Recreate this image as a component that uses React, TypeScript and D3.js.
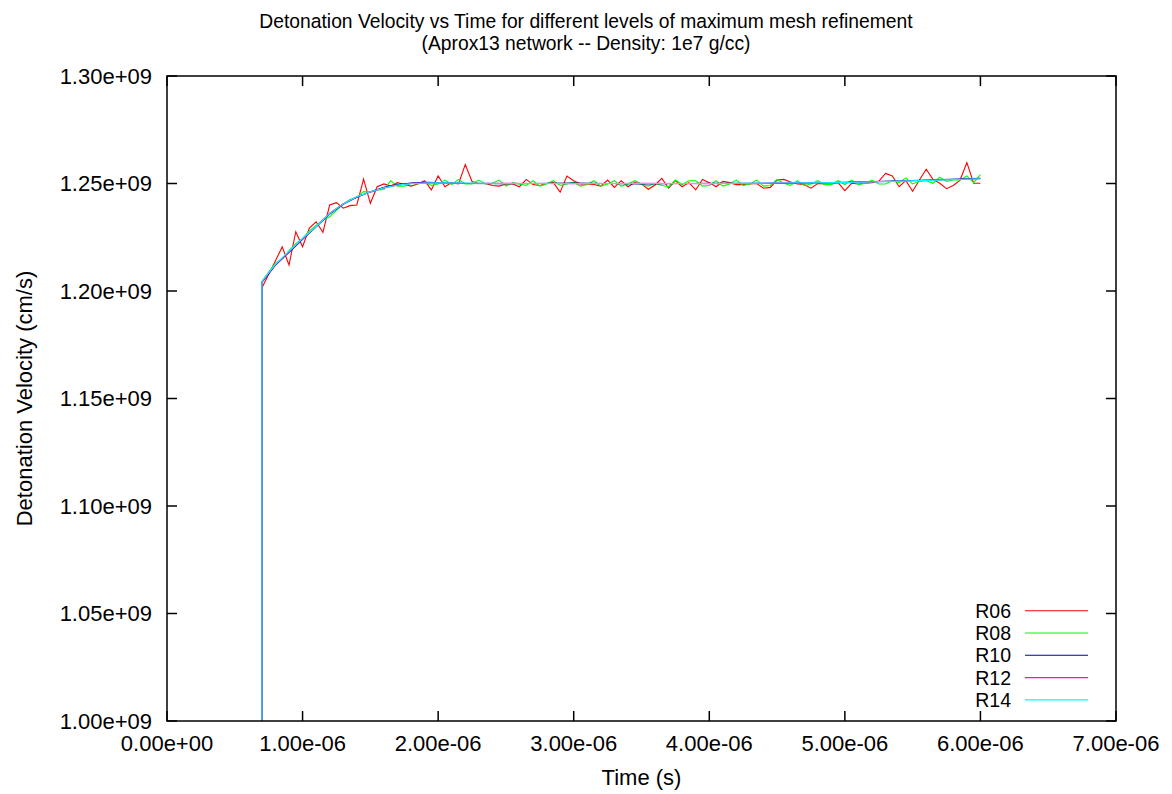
import React from "react";
import * as d3 from "d3";

// Times in microseconds (x 1e-6 s); velocities in units of 1e7 cm/s
const TIME_FINE = [
  0.70, 0.70, 0.75, 0.80, 0.85, 0.90, 0.95, 1.00, 1.05, 1.10, 1.15, 1.20, 1.25, 1.30, 1.35, 1.40,
  1.45, 1.50, 1.55, 1.60, 1.65, 1.70, 1.75, 1.80, 1.85, 1.90, 1.95, 2.00, 2.05, 2.10, 2.15,
  2.20, 2.25, 2.30, 2.35, 2.40, 2.45, 2.50, 2.55, 2.60, 2.65, 2.70, 2.75, 2.80, 2.85, 2.90,
  2.95, 3.00, 3.05, 3.10, 3.15, 3.20, 3.25, 3.30, 3.35, 3.40, 3.45, 3.50, 3.55, 3.60, 3.65,
  3.70, 3.75, 3.80, 3.85, 3.90, 3.95, 4.00, 4.05, 4.10, 4.15, 4.20, 4.25, 4.30, 4.35, 4.40,
  4.45, 4.50, 4.55, 4.60, 4.65, 4.70, 4.75, 4.80, 4.85, 4.90, 4.95, 5.00, 5.05, 5.10, 5.15,
  5.20, 5.25, 5.30, 5.35, 5.40, 5.45, 5.50, 5.55, 5.60, 5.65, 5.70, 5.75, 5.80, 5.85, 5.90,
  5.95, 6.00,
];

const R06 = [
  0, 120.14, 120.78, 121.41, 122.05, 121.21, 122.76, 122.06, 122.93, 123.22, 122.73, 124.0,
  124.11, 123.85, 123.97, 124.0, 125.2, 124.08, 124.85, 124.98, 124.88, 125.04,
  124.95, 124.88, 124.98, 125.13, 124.7, 125.35, 124.85, 125.04, 124.98, 125.88,
  125.09, 125.0, 125.0, 124.91, 124.88, 124.98, 124.98, 124.85, 125.19, 124.95,
  124.91, 125.0, 125.04, 124.6, 125.35, 125.13, 124.98, 124.98, 124.95, 124.88,
  125.16, 124.82, 125.13, 124.85, 125.04, 124.98, 124.73, 124.93, 125.24, 124.78,
  125.13, 124.85, 125.04, 124.7, 125.19, 125.04, 124.85, 125.1, 125.04, 124.95,
  124.95, 124.98, 125.0, 124.78, 124.82, 125.16, 125.19, 125.07, 124.98, 124.95,
  124.78, 125.0, 124.98, 124.98, 125.04, 124.67, 125.01, 124.98, 125.01, 125.04,
  125.1, 125.47, 125.35, 124.85, 125.13, 124.64, 125.16, 125.66, 125.19, 125.01,
  124.76, 124.91, 125.16, 125.97, 125.01, 125.01,
];

const R08 = [
  0, 120.45, 120.88, 121.3, 121.5, 121.88, 122.2, 122.45, 122.8, 123.05, 123.3, 123.45,
  123.75, 124.05, 124.25, 124.35, 124.62, 124.6, 124.7, 124.72, 125.13, 124.88,
  124.88, 125.01, 124.98, 125.07, 124.91, 124.98, 125.16, 124.95, 125.19, 124.98,
  124.98, 125.16, 124.98, 125.01, 125.16, 124.88, 125.04, 124.98, 124.91, 125.13,
  124.88, 124.98, 125.13, 124.91, 124.98, 125.07, 124.88, 124.95, 125.13, 124.88,
  124.98, 125.13, 124.88, 124.98, 125.13, 124.98, 124.88, 125.01, 124.91, 124.85,
  125.16, 124.95, 125.13, 125.13, 124.88, 124.91, 125.13, 124.88, 124.98, 125.16,
  124.91, 124.98, 125.16, 124.88, 124.91, 125.19, 125.01, 124.91, 125.13, 124.91,
  124.98, 125.13, 124.95, 124.95, 125.13, 124.95, 125.16, 124.95, 125.01, 125.16,
  124.98, 124.98, 125.13, 125.04, 125.26, 124.98, 125.1, 125.13, 125.01, 125.29,
  125.1, 125.16, 125.16, 125.35, 125.04, 125.41,
];

const TIME_COARSE = [
  0.70, 0.70, 0.75, 0.80, 0.90, 1.00, 1.10, 1.20, 1.30, 1.40, 1.50, 1.60, 1.70, 1.80, 1.90,
  2.00, 2.20, 2.50, 3.00, 3.50, 4.00, 4.50, 5.00, 5.50, 6.00,
];

const R10 = [
  0, 120.40, 120.80, 121.20, 121.80, 122.40, 122.98, 123.58, 124.03, 124.36, 124.62, 124.82,
  124.95, 125.02, 125.05, 125.04, 125.0, 124.99, 125.02, 124.98, 125.01, 125.0, 125.06,
  125.14, 125.24,
];
const R12 = [
  0, 120.42, 120.83, 121.22, 121.83, 122.43, 123.0, 123.62, 124.06, 124.38, 124.6, 124.79,
  124.92, 125.0, 125.03, 125.02, 125.01, 125.01, 124.99, 125.01, 124.99, 125.03, 125.04,
  125.13, 125.22,
];
const R14 = [
  0, 120.43, 120.85, 121.25, 121.85, 122.45, 123.0, 123.6, 124.05, 124.38, 124.62, 124.8,
  124.93, 124.99, 125.02, 125.03, 125.02, 125.0, 125.0, 125.0, 125.0, 125.02, 125.05,
  125.12, 125.22,
];

const SERIES = [
  { name: "R06", t: TIME_FINE, v: R06, color: "#ff0000" },
  { name: "R08", t: TIME_FINE, v: R08, color: "#00ff00" },
  { name: "R10", t: TIME_COARSE, v: R10, color: "#0000a0" },
  { name: "R12", t: TIME_COARSE, v: R12, color: "#ff00ff" },
  { name: "R14", t: TIME_COARSE, v: R14, color: "#00ffff" },
];

const X_TICKS = [0, 1e-6, 2e-6, 3e-6, 4e-6, 5e-6, 6e-6, 7e-6];
const Y_TICKS = [1.0e9, 1.05e9, 1.1e9, 1.15e9, 1.2e9, 1.25e9, 1.3e9];

const TITLE_1 = "Detonation Velocity vs Time for different levels of maximum mesh refinement";
const TITLE_2 = "(Aprox13 network -- Density: 1e7 g/cc)";
const X_LABEL = "Time (s)";
const Y_LABEL = "Detonation Velocity (cm/s)";

function fmt(v: number): string {
  if (v === 0) return "0.00e+00";
  const e = Math.floor(Math.log10(Math.abs(v)) + 1e-9);
  const m = v / Math.pow(10, e);
  const sign = e < 0 ? "-" : "+";
  const ae = Math.abs(e);
  return m.toFixed(2) + "e" + sign + (ae < 10 ? "0" + ae : "" + ae);
}

const W = 1172;
const H = 794;
const L = 167, R = 1116, T = 76, B = 721;
const FONT = "'Liberation Sans', Arial, Helvetica, sans-serif";

export default function App() {
  const x = d3.scaleLinear().domain([0, 7e-6]).range([L, R]);
  const y = d3.scaleLinear().domain([1.0e9, 1.3e9]).range([B, T]);
  const line = d3
    .line<[number, number]>()
    .x((d) => x(d[0] * 1e-6))
    .y((d) => y(d[1] * 1e7));

  const tick = 10;
  const fs = 22;

  return (
    <svg
      width={W}
      height={H}
      style={{ position: "absolute", left: 0, top: 0, background: "#fff" }}
      fontFamily={FONT}
    >
      <defs>
        <clipPath id="plotclip">
          <rect x={L} y={T} width={R - L} height={B - T} />
        </clipPath>
      </defs>
      <rect x={0} y={0} width={W} height={H} fill="#fff" />

      <text x={W / 2} y={28} textAnchor="middle" fontSize={19.3}>{TITLE_1}</text>
      <text x={W / 2} y={50} textAnchor="middle" fontSize={19.3}>{TITLE_2}</text>

      <g clipPath="url(#plotclip)">
        {SERIES.map((s) => (
          <path
            key={s.name}
            d={line(s.t.map((t, i) => [t, s.v[i]] as [number, number])) || ""}
            fill="none"
            stroke={s.color}
            strokeWidth={1.1}
          />
        ))}
      </g>

      {/* ticks */}
      <g stroke="#000" strokeWidth={1.5}>
        {X_TICKS.map((t) => (
          <g key={"xt" + t}>
            <line x1={x(t)} x2={x(t)} y1={B} y2={B - tick} />
            <line x1={x(t)} x2={x(t)} y1={T} y2={T + tick} />
          </g>
        ))}
        {Y_TICKS.map((v) => (
          <g key={"yt" + v}>
            <line x1={L} x2={L + tick} y1={y(v)} y2={y(v)} />
            <line x1={R} x2={R - tick} y1={y(v)} y2={y(v)} />
          </g>
        ))}
      </g>
      <rect x={L} y={T} width={R - L} height={B - T} fill="none" stroke="#000" strokeWidth={1.5} />

      {X_TICKS.map((t) => (
        <text key={"xl" + t} x={x(t)} y={751} textAnchor="middle" fontSize={fs}>
          {fmt(t)}
        </text>
      ))}
      {Y_TICKS.map((v) => (
        <text key={"yl" + v} x={152} y={y(v)} dy="0.36em" textAnchor="end" fontSize={fs}>
          {fmt(v)}
        </text>
      ))}

      <text x={(L + R) / 2} y={785} textAnchor="middle" fontSize={fs}>{X_LABEL}</text>
      <text
        transform={`translate(32, ${(T + B) / 2}) rotate(-90)`}
        textAnchor="middle"
        fontSize={fs}
      >
        {Y_LABEL}
      </text>

      {/* legend */}
      {SERIES.map((s, i) => {
        const ly = 610.7 + i * 22.3;
        return (
          <g key={"lg" + s.name}>
            <text x={1011} y={ly} dy="0.36em" textAnchor="end" fontSize={19.5}>{s.name}</text>
            <line x1={1025} x2={1088} y1={ly} y2={ly} stroke={s.color} strokeWidth={1.1} />
          </g>
        );
      })}
    </svg>
  );
}
